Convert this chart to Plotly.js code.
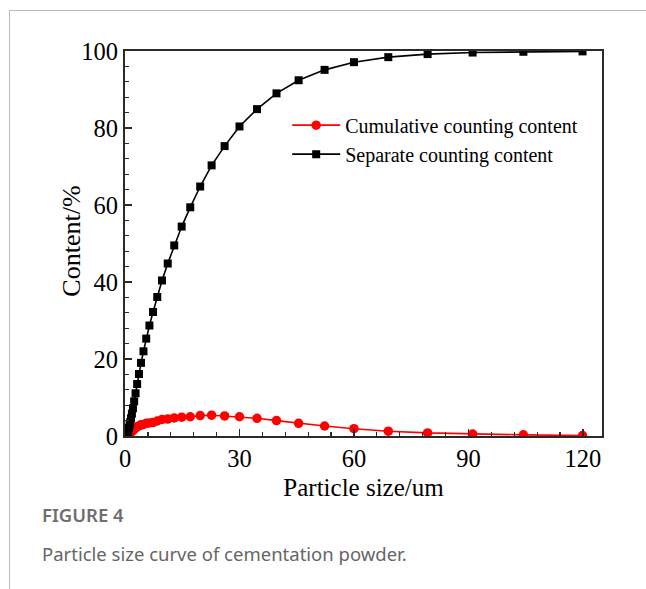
<!DOCTYPE html>
<html>
<head>
<meta charset="utf-8">
<script src="https://cdn.plot.ly/plotly-3.0.1.min.js"></script>
<style>
  html, body { margin: 0; padding: 0; background: #fff; }
  #wrap { position: relative; width: 646px; height: 589px; overflow: hidden; }
  #chart { position: absolute; left: 0; top: 0; width: 646px; height: 589px; }
  #frame { position: absolute; left: 9px; top: 10px; width: 700px; height: 700px;
           border-top: 1px solid #bdbdbd; border-left: 1px solid #bdbdbd; pointer-events: none; }
  .cap { position: absolute; left: 42px; font-family: "Noto Sans", "Open Sans", sans-serif; white-space: nowrap; }
  #cap1 { top: 502px; font-size: 18.5px; font-weight: 600; color: #6e6e6e; }
  #cap2 { top: 541px; font-size: 18.5px; color: #666; }
</style>
</head>
<body>
<div id="wrap">
  <div id="chart"></div>
  <div id="frame"></div>
  <div class="cap" id="cap1">FIGURE 4</div>
  <div class="cap" id="cap2">Particle size curve of cementation powder.</div>
</div>
<script>
// Particle sizes (um)
const particleSize = [0.45, 0.51, 0.59, 0.68, 0.78, 0.9, 1.04, 1.19, 1.37, 1.57, 1.81, 2.08, 2.4,
  2.77, 3.18, 3.66, 4.2, 4.84, 5.56, 6.4, 7.35, 8.45, 9.7, 11.2, 12.9, 14.85, 17.1, 19.7, 22.7,
  26.1, 30.0, 34.6, 39.7, 45.5, 52.3, 60.0, 69.0, 79.3, 91.1, 104.4, 119.9];

// "Cumulative counting content" (red circles)
const cumulativeContent = [0.1, 0.15, 0.2, 0.25, 0.35, 0.45, 0.6, 0.7, 0.8, 1.0, 1.2, 1.4, 1.8,
  2.1, 2.4, 2.6, 2.9, 3.0, 3.3, 3.4, 3.5, 3.9, 4.3, 4.4, 4.7, 4.9, 5.0, 5.3, 5.4,
  5.2, 5.0, 4.6, 4.0, 3.3, 2.6, 1.9, 1.25, 0.8, 0.5, 0.3, 0.1];

// "Separate counting content" (black squares)
const separateContent = [0.1, 0.25, 0.45, 0.7, 1.05, 1.5, 2.1, 2.8, 3.6, 4.6, 5.8, 7.2, 9.0,
  11.1, 13.5, 16.1, 19.0, 22.0, 25.3, 28.7, 32.2, 36.1, 40.4, 44.8, 49.5, 54.4, 59.4, 64.8, 70.3,
  75.3, 80.4, 84.9, 89.0, 92.4, 95.1, 97.1, 98.4, 99.2, 99.6, 99.8, 99.9];

const seriesNames = ["Cumulative counting content", "Separate counting content"];
const xTickVals = [0, 30, 60, 90, 120];
const yTickVals = [0, 20, 40, 60, 80, 100];
const xTitle = "Particle size/um";
const yTitle = "Content/%";

const serif = "'Liberation Serif', 'Times New Roman', serif";

const traces = [
  {
    x: particleSize, y: cumulativeContent, name: seriesNames[0],
    type: "scatter", mode: "lines+markers",
    line: { color: "#ff0000", width: 1.6 },
    marker: { color: "#ff0000", symbol: "circle", size: 9.5 }
  },
  {
    x: particleSize, y: separateContent, name: seriesNames[1],
    type: "scatter", mode: "lines+markers",
    line: { color: "#000000", width: 1.6 },
    marker: { color: "#000000", symbol: "square", size: 8 }
  }
];

const axisCommon = {
  showgrid: false, zeroline: false, showline: true, mirror: true,
  linecolor: "#2a2a2a", linewidth: 2,
  ticks: "inside", ticklen: 7, tickwidth: 1.3, tickcolor: "#2a2a2a",
  tickfont: { family: serif, size: 24.5, color: "#000" }
};

const layout = {
  width: 646, height: 589,
  margin: { l: 125, r: 44, t: 51, b: 153, pad: 0 },
  paper_bgcolor: "rgba(0,0,0,0)", plot_bgcolor: "#fff",
  showlegend: true,
  legend: {
    x: 0.34, y: 0.858, xanchor: "left", yanchor: "top",
    bgcolor: "rgba(0,0,0,0)", borderwidth: 0,
    font: { family: serif, size: 20, color: "#000" },
    itemwidth: 48, tracegroupgap: 0
  },
  xaxis: Object.assign({}, axisCommon, {
    range: [0, 125], tickmode: "array", tickvals: xTickVals,
    minor: { dtick: 6, ticks: "inside", ticklen: 4, tickwidth: 1.2, tickcolor: "#2a2a2a" },
    title: { text: xTitle, font: { family: serif, size: 25, color: "#000" }, standoff: 7 }
  }),
  yaxis: Object.assign({}, axisCommon, {
    range: [0, 100], tickmode: "array", tickvals: yTickVals,
    minor: { dtick: 4, ticks: "inside", ticklen: 4, tickwidth: 1.2, tickcolor: "#2a2a2a" }
  }),
  annotations: [
    {
      text: yTitle, xref: "paper", yref: "paper", x: -0.111, y: 0.505,
      xanchor: "center", yanchor: "middle", textangle: -90, showarrow: false,
      font: { family: serif, size: 26, color: "#000" }
    }
  ]
};

Plotly.newPlot("chart", traces, layout, { displayModeBar: false, staticPlot: true });
</script>
</body>
</html>
